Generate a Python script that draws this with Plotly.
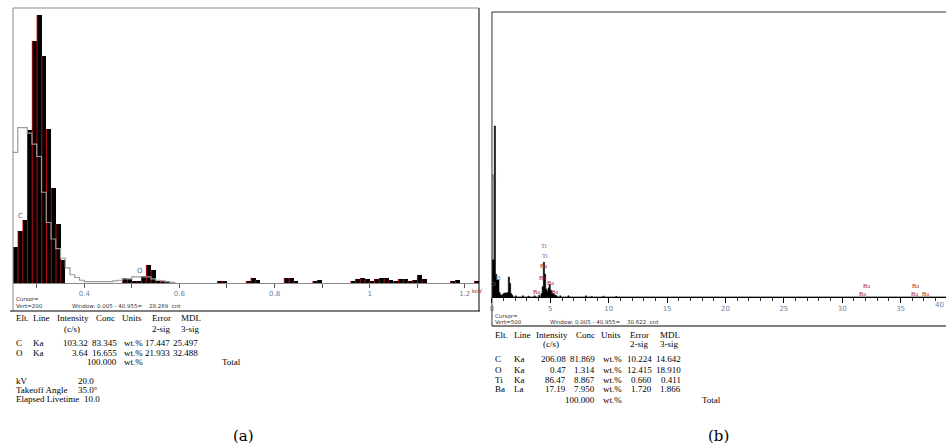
import plotly.graph_objects as go

W, H = 946, 446

# ---------------- Panel (a) data ----------------
a_energy = [0.255, 0.265, 0.275, 0.285, 0.295, 0.305, 0.315, 0.325, 0.335, 0.345, 0.355,
            0.485, 0.495, 0.505, 0.515, 0.525, 0.535, 0.545, 0.555, 0.565, 0.575,
            0.685, 0.695, 0.745, 0.755, 0.765, 0.825, 0.835, 0.845, 0.885, 0.895,
            0.965, 0.975, 0.985, 0.995, 1.005, 1.015, 1.025, 1.035, 1.045, 1.055,
            1.065, 1.075, 1.085, 1.095, 1.105, 1.115, 1.175, 1.185, 1.225]
a_counts = [26, 38, 46, 111, 176, 195, 165, 112, 69, 43, 17,
            3.5, 3, 1.5, 1, 5, 13, 9.5, 1.5, 1.5, 1.5,
            1.5, 1.5, 1.5, 4, 2, 3.6, 3.6, 1.5, 1.5, 2,
            1.5, 3, 3.5, 3, 1.5, 3, 3.5, 3.5, 2, 1.5,
            3, 3, 1.5, 2, 6, 3, 1.5, 2, 1.5]

a_bg_energy = [0.25, 0.26, 0.27, 0.28, 0.29, 0.30, 0.31, 0.32, 0.33, 0.34, 0.35, 0.36, 0.37,
               0.38, 0.39, 0.40, 0.46, 0.47, 0.48, 0.50, 0.54, 0.55, 0.56, 0.57, 0.58, 0.59]
a_bg_counts = [95, 113, 113, 109, 101, 92, 66, 44, 32, 25, 18, 11, 6,
               4, 2, 1, 1.5, 2, 3, 4.5, 3, 2, 1.5, 1, 0.5, 0]

a_peak_labels = ["C", "O"]
a_peak_energy = [0.265, 0.517]
a_peak_counts = [49, 9]

a_tick_vals = [0.3, 0.4, 0.5, 0.6, 0.7, 0.8, 0.9, 1.0, 1.1, 1.2]
a_tick_text = ["", "0.4", "", "0.6", "", "0.8", "", "1", "", "1.2"]

# ---------------- Panel (b) data ----------------
b_energy = [0.0, 0.1, 0.2, 0.3, 0.4, 0.5, 0.6, 0.7, 0.8, 0.9, 1.0, 1.1, 1.2, 1.3, 1.4, 1.5, 1.6, 1.7,
            2.0, 2.6, 3.1, 3.6, 4.0, 4.2, 4.3, 4.4, 4.5, 4.6, 4.7, 4.8, 4.9, 5.0, 5.1, 5.2, 5.3,
            5.4, 5.5, 5.8, 6.5, 8.0, 8.5, 9.5, 10.6]
b_counts = [65, 65, 300, 40, 30, 30, 8, 4, 3, 5, 7, 7, 7, 8, 35, 24, 6, 3,
            2, 2, 1.5, 2, 3, 6, 18, 61, 40, 14, 10, 16, 22, 12, 8, 6, 4,
            3, 2, 2, 2, 2, 1, 1.5, 1]
b_bg_energy = [0.0, 0.1]
b_bg_counts = [215, 215]

b_peak_labels = ["Ti", "Ti", "Ba", "Ba", "Ba", "Ba", "Ba", "Ti", "C", "O",
                 "Ba", "Ba", "Ba", "Ba", "Ba"]
b_peak_energy = [4.44, 4.53, 4.44, 4.36, 5.04, 3.85, 5.38, 0.55, 0.17, 0.17,
                 32.05, 31.7, 36.24, 36.15, 37.1]
b_peak_counts = [91, 72, 56, 35, 26, 9, 9, 35, 212, 23,
                 21, 7, 21, 7, 7]

# ---------------- Tables ----------------
tbl_header = ["Elt.", "Line", "Intensity", "Conc", "Units", "Error", "MDL"]
tbl_sub = ["(c/s)", "2-sig", "3-sig"]

a_elt = ["C", "O"]
a_line = ["Ka", "Ka"]
a_intensity = ["103.32", "3.64"]
a_conc = ["83.345", "16.655"]
a_error = ["17.447", "21.933"]
a_mdl = ["25.497", "32.488"]
a_total = "100.000"
a_params = ["kV", "Takeoff Angle", "Elapsed Livetime"]
a_param_vals = ["20.0", "35.0°", "10.0"]

b_elt = ["C", "O", "Ti", "Ba"]
b_line = ["Ka", "Ka", "Ka", "La"]
b_intensity = ["206.08", "0.47", "86.47", "17.19"]
b_conc = ["81.869", "1.314", "8.867", "7.950"]
b_error = ["10.224", "12.415", "0.660", "1.720"]
b_mdl = ["14.642", "18.910", "0.411", "1.866"]
b_total = "100.000"

# ---------------- helpers ----------------
def X(px):
    return px / W

def Y(py):
    return 1 - py / H

SERIF = "Liberation Serif"
annots = []
shapes = []

def txt(s, px, py, anchor="left", size=9, color="black", family=SERIF):
    annots.append(dict(text=s, x=X(px), y=Y(py), xref="paper", yref="paper",
                       xanchor=anchor, yanchor="middle", showarrow=False,
                       font=dict(size=size, color=color, family=family)))

def line(x0, y0, x1, y1, color="black", width=1):
    shapes.append(dict(type="line", xref="paper", yref="paper",
                       x0=X(x0), y0=Y(y0), x1=X(x1), y1=Y(y1),
                       line=dict(color=color, width=width)))

fig = go.Figure()

# Panel (a) traces: black bins with a thin red left edge
fig.add_trace(go.Bar(x=a_energy, y=a_counts, width=0.01,
                     marker=dict(color="black", line=dict(width=0)),
                     xaxis="x", yaxis="y"))
edge_x, edge_y = [], []
for e, c in zip(a_energy, a_counts):
    xe = e - 0.0045
    edge_x += [xe, xe, None]
    edge_y += [0, c, None]
fig.add_trace(go.Scatter(x=edge_x, y=edge_y, mode="lines",
                         line=dict(color="#e01010", width=0.8),
                         xaxis="x", yaxis="y"))
fig.add_trace(go.Scatter(x=a_bg_energy, y=a_bg_counts, mode="lines",
                         line=dict(color="#9a9a9a", width=1.2, shape="hv"),
                         xaxis="x", yaxis="y"))

# Panel (b) traces (full grid from sparse bins)
grid = [round(i * 0.1, 1) for i in range(0, 390)]
bmap = dict(zip(b_energy, b_counts))
bgmap = dict(zip(b_bg_energy, b_bg_counts))
b_full = [bmap.get(e, 0) for e in grid]
bg_full = [bgmap.get(e, 0) for e in grid]
fig.add_trace(go.Scatter(x=grid, y=bg_full, mode="lines", fill="tozeroy",
                         fillcolor="#b0b0b0", line=dict(color="#b0b0b0", width=0.5, shape="hv"),
                         xaxis="x2", yaxis="y2"))
fig.add_trace(go.Scatter(x=grid, y=b_full, mode="lines", fill="tozeroy",
                         fillcolor="black", line=dict(color="black", width=0.6, shape="hv"),
                         xaxis="x2", yaxis="y2"))

# element labels
for lab, e, c in zip(a_peak_labels, a_peak_energy, a_peak_counts):
    annots.append(dict(text=lab, x=e, y=c, xref="x", yref="y", showarrow=False,
                       font=dict(size=7, color="#5a6a8a", family="DejaVu Sans")))
for lab, e, c in zip(b_peak_labels, b_peak_energy, b_peak_counts):
    col = "#b22222" if lab == "Ba" else "#5a6a8a"
    annots.append(dict(text=lab, x=e, y=c, xref="x2", yref="y2", showarrow=False,
                       font=dict(size=6.5, color=col, family=SERIF)))

tickfont = dict(size=7, color="#6b7fa3", family="DejaVu Sans")

fig.update_layout(
    width=W, height=H, margin=dict(l=0, r=0, t=0, b=0),
    paper_bgcolor="white", plot_bgcolor="white", showlegend=False,
    bargap=0, barmode="overlay",
    xaxis=dict(domain=[X(11), X(478)], range=[0.25, 1.23], anchor="y",
               tickvals=a_tick_vals, ticktext=a_tick_text, ticks="outside", ticklen=4,
               tickcolor="#555", showline=True, linecolor="#8a8a8a", linewidth=1,
               showgrid=False, zeroline=False, tickfont=tickfont),
    yaxis=dict(domain=[Y(283), Y(8)], range=[0, 200], visible=False, anchor="x"),
    xaxis2=dict(domain=[X(491), 1.0], range=[0, (946 - 491) / 11.7], anchor="y2",
                tick0=0, dtick=5, ticks="outside", ticklen=5, tickcolor="black",
                minor=dict(dtick=1, ticks="outside", ticklen=3, tickcolor="#333"),
                showline=True, linecolor="black", linewidth=1,
                showgrid=False, zeroline=False, tickfont=tickfont),
    yaxis2=dict(domain=[Y(297), Y(12)], range=[0, 500], visible=False, anchor="x2"),
)

# ---- borders panel (a)
line(11, 8, 478, 8, "#8a8a8a")
line(11, 8, 11, 311, "#8a8a8a")
line(478, 8, 478, 311, "black")
line(8, 311, 479, 311, "black")
# ---- borders panel (b)
line(491, 12, 946, 12, "#333")
line(491, 12, 491, 326, "#333")
line(491, 326, 946, 326, "black")

# keV unit / last tick label
txt("keV", 469, 291, size=5.5, color="#b22222", family="DejaVu Sans")
txt("40", 946, 305, anchor="right", size=7, color="#6b7fa3", family="DejaVu Sans")

# footer small texts
small = dict(size=5.5, color="#333", family="DejaVu Sans")
txt("Cursor=", 12, 299, **small)
txt("Vert=200", 12, 306, **small)
txt("Window: 0.005 - 40.955=    28.269  cnt", 68, 306, **small)
txt("Cursor=", 492, 316, **small)
txt("Vert=500", 492, 322, **small)
txt("Window: 0.005 - 40.955=    30.622  cnt", 547, 322, **small)

# ---- table (a)
hx_a = [12, 29, 53, 92, 118, 148, 177]
for s, x in zip(tbl_header, hx_a):
    txt(s, x, 318)
txt(tbl_sub[0], 60, 329)
txt(tbl_sub[1], 148, 329)
txt(tbl_sub[2], 177, 329)
for i, ry in enumerate([343, 353]):
    txt(a_elt[i], 12, ry)
    txt(a_line[i], 29, ry)
    txt(a_intensity[i], 88, ry, anchor="right")
    txt(a_conc[i], 117, ry, anchor="right")
    txt("wt.%", 120, ry)
    txt(a_error[i], 170, ry, anchor="right")
    txt(a_mdl[i], 198, ry, anchor="right")
txt(a_total, 117, 362, anchor="right")
txt("wt.%", 120, 362)
txt("Total", 218, 362)
for s, v, ry, vx in zip(a_params, a_param_vals, [381, 390, 399], [74, 74, 80]):
    txt(s, 12, ry)
    txt(v, vx, ry)

# ---- table (b)
hx_b = [492, 511, 533, 573, 598, 627, 657]
for s, x in zip(tbl_header, hx_b):
    txt(s, x, 335)
txt(tbl_sub[0], 540, 344)
txt(tbl_sub[1], 627, 344)
txt(tbl_sub[2], 657, 344)
for i, ry in enumerate([359, 370, 380, 389]):
    txt(b_elt[i], 492, ry)
    txt(b_line[i], 511, ry)
    txt(b_intensity[i], 567, ry, anchor="right")
    txt(b_conc[i], 596, ry, anchor="right")
    txt("wt.%", 600, ry)
    txt(b_error[i], 653, ry, anchor="right")
    txt(b_mdl[i], 682, ry, anchor="right")
txt(b_total, 596, 400, anchor="right")
txt("wt.%", 600, 400)
txt("Total", 699, 400)

# ---- captions
txt("(a)", 242, 436, anchor="center", size=15, family="DejaVu Serif")
txt("(b)", 718, 436, anchor="center", size=15, family="DejaVu Serif")

fig.update_layout(annotations=annots, shapes=shapes)
fig.write_html("out.html")
